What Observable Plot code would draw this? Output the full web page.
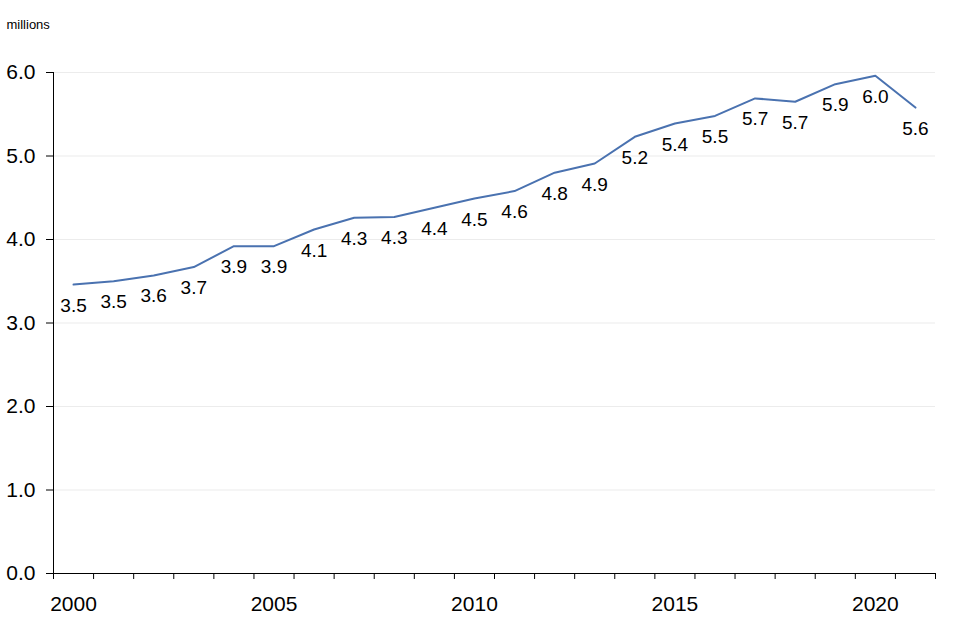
<!DOCTYPE html>
<html>
<head>
<meta charset="utf-8">
<script src="https://cdn.jsdelivr.net/npm/d3@7"></script>
<script src="https://cdn.jsdelivr.net/npm/@observablehq/plot@0.6"></script>
<style>
  html, body { margin: 0; padding: 0; background: #fff; }
  #chart { width: 960px; height: 640px; }
</style>
</head>
<body>
<div id="chart"></div>
<script>
const years = [2000,2001,2002,2003,2004,2005,2006,2007,2008,2009,2010,2011,2012,2013,2014,2015,2016,2017,2018,2019,2020,2021];
const values = [3.46,3.50,3.57,3.67,3.92,3.92,4.12,4.26,4.27,4.38,4.49,4.58,4.80,4.91,5.23,5.39,5.48,5.69,5.65,5.86,5.96,5.58];
const yTicks = [0,1,2,3,4,5,6];
const xLabelYears = [2000,2005,2010,2015,2020];
const unitLabel = "millions";

const data = years.map((y, i) => ({year: y, value: values[i]}));
const boundaries = d3.range(years[0] - 0.5, years[years.length - 1] + 1, 1);

const chart = Plot.plot({
  width: 960,
  height: 640,
  marginLeft: 53,
  marginRight: 25,
  marginTop: 72,
  marginBottom: 67,
  style: {fontFamily: "'Liberation Sans', Arial, sans-serif", background: "#fff", color: "#000"},
  x: {type: "linear", domain: [boundaries[0], boundaries[boundaries.length - 1]], axis: null},
  y: {domain: [0, 6], axis: null},
  marks: [
    Plot.gridY(yTicks.filter(d => d > 0), {stroke: "#d9d9d9", strokeOpacity: 0.5, strokeWidth: 1}),
    Plot.axisY(yTicks, {tickSize: 7, tickPadding: 11, tickFormat: d3.format(".1f"), fontSize: 21, label: null, stroke: "#000"}),
    Plot.axisX(boundaries, {tickSize: 6, tickFormat: () => "", label: null, stroke: "#000"}),
    Plot.axisX(xLabelYears, {tickSize: 0, tickPadding: 23, tickFormat: d => String(d), fontSize: 21, label: null}),
    Plot.ruleX([boundaries[0]], {stroke: "#000", strokeWidth: 1}),
    Plot.ruleY([0], {stroke: "#000", strokeWidth: 1}),
    Plot.line(data, {x: "year", y: "value", stroke: "#4a72b0", strokeWidth: 2}),
    Plot.text(data, {x: "year", y: "value", text: d => d3.format(".1f")(d.value), dy: 21, fontSize: 19, fill: "#000"}),
    Plot.text([unitLabel], {frameAnchor: "top-left", dx: -47, dy: -53, textAnchor: "start", fontSize: 13, fill: "#000"})
  ]
});
document.getElementById("chart").appendChild(chart);
</script>
</body>
</html>
